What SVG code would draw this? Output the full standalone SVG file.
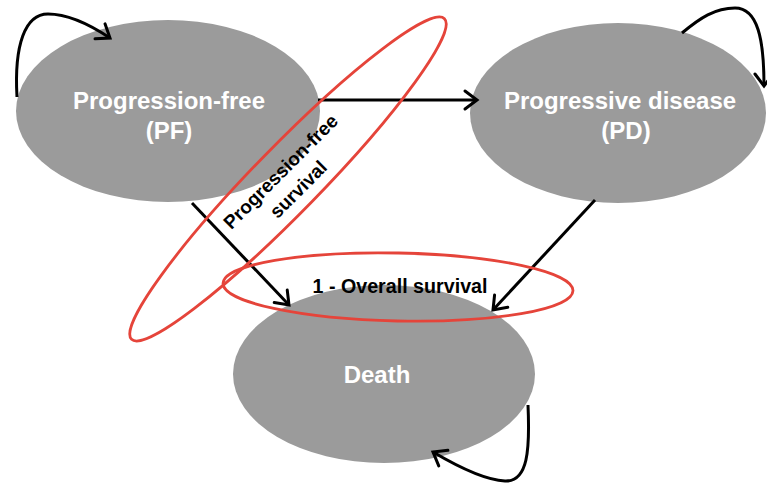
<svg xmlns="http://www.w3.org/2000/svg" width="767" height="483" viewBox="0 0 767 483">
<style>
.node{fill:#9b9b9b;}
.lbl{font-family:"Liberation Sans",Arial,sans-serif;font-weight:bold;font-size:24px;fill:#ffffff;text-anchor:middle;}
.edge{fill:none;stroke:#000;stroke-width:3;}
.hl{fill:none;stroke:#e5443a;stroke-width:2.8;}
.note{font-family:"Liberation Sans",Arial,sans-serif;font-weight:bold;fill:#000;text-anchor:middle;}
</style>
<defs>
<marker id="arr" viewBox="-16 -12 20 24" refX="0" refY="0" markerWidth="20" markerHeight="24" markerUnits="userSpaceOnUse" orient="auto" overflow="visible">
<path d="M-12,-9 L0,0 L-12,9" fill="none" stroke="#000" stroke-width="3" stroke-linecap="round" stroke-linejoin="miter"/>
</marker>
</defs>
<rect width="767" height="483" fill="#ffffff"/>
<g id="node-pf">
<ellipse class="node" cx="168" cy="111" rx="152" ry="91"/>
<text class="lbl" x="169" y="109">Progression-free</text>
<text class="lbl" x="169" y="139">(PF)</text>
</g>
<g id="node-pd">
<ellipse class="node" cx="618" cy="113" rx="148" ry="90"/>
<text class="lbl" x="620" y="109">Progressive disease</text>
<text class="lbl" x="626" y="139">(PD)</text>
</g>
<g id="node-death">
<ellipse class="node" cx="384" cy="374" rx="151" ry="89"/>
<text class="lbl" x="377" y="383">Death</text>
</g>
<g id="connectors">
<path class="edge" d="M318,100 L477,100" marker-end="url(#arr)"/>
<path class="edge" d="M192,203 L289,305" marker-end="url(#arr)"/>
<path class="edge" d="M595,200 L493,310" marker-end="url(#arr)"/>
<path class="edge" d="M17,97 C14,45 25,14 48,14 C70,14 95,28 110,38" marker-end="url(#arr)"/>
<path class="edge" d="M682,33 C700,18 715,8 735,8 C758,8 764,40 764,86" marker-end="url(#arr)"/>
<path class="edge" d="M528,405 C530,450 528,482 505,481 C485,480 455,465 433,452" marker-end="url(#arr)"/>
</g>
<g id="highlight-pfs">
<ellipse class="hl" cx="288" cy="179" rx="224" ry="33" transform="rotate(-45.7 288 179)"/>
<g transform="translate(281,172) rotate(-45)">
<text class="note" x="0" y="6" font-size="19" textLength="153" lengthAdjust="spacingAndGlyphs">Progression-free</text>
<text class="note" x="0" y="31" font-size="19">survival</text>
</g>
</g>
<g id="highlight-os">
<ellipse class="hl" cx="398" cy="287" rx="175" ry="34" transform="rotate(1.2 398 287)"/>
<text class="note" x="400" y="293" font-size="19.5" textLength="175" lengthAdjust="spacingAndGlyphs">1 - Overall survival</text>
</g>
</svg>
